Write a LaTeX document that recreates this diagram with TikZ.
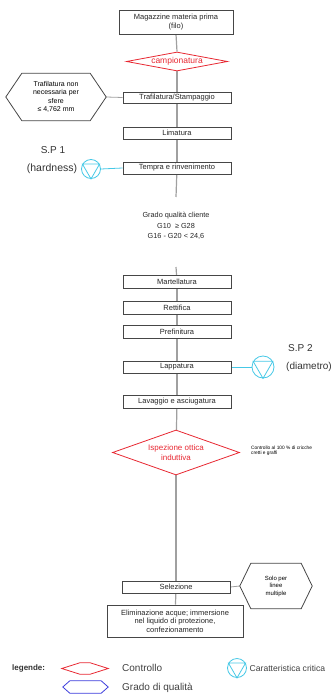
\documentclass[tikz,border=0pt]{standalone}
\usepackage{fontspec}
\setmainfont{Liberation Sans}
\usetikzlibrary{shapes.geometric,backgrounds}
\definecolor{redc}{RGB}{232,40,50}
\definecolor{cyanc}{RGB}{70,200,230}
\definecolor{bluec}{RGB}{60,60,220}
\definecolor{linec}{RGB}{160,160,160}
\definecolor{boxc}{RGB}{70,70,70}
\newcommand{\hexpath}[3]{\draw[#3] (#1.west) -- ([xshift=#2]#1.north west) -- ([xshift=-#2]#1.north east) -- (#1.east) -- ([xshift=-#2]#1.south east) -- ([xshift=#2]#1.south west) -- cycle;}
\newcommand{\critsym}[1]{\draw[cyanc,line width=0.8pt] (#1.150) -- (#1.30) -- (#1.270) -- cycle;}
\tikzset{
  procbox/.style={draw=boxc,fill=white,line width=0.8pt,inner sep=0pt,minimum width=108pt,minimum height=12pt,align=center,font=\fontsize{7.5}{8.5}\selectfont,text=black!85},
  ctrl/.style={diamond,draw=redc,fill=white,line width=0.8pt,inner sep=0pt},
  ctrltext/.style={text=redc,align=center,inner sep=0pt},
  hexnode/.style={inner sep=0pt,align=center,font=\fontsize{6}{7.5}\selectfont},
  critc/.style={circle,draw=cyanc,line width=0.8pt,inner sep=0pt,minimum size=#1},
  flow/.style={draw=linec,line width=1.2pt},
  cflow/.style={draw=cyanc,line width=0.8pt},
  lbl/.style={inner sep=0pt,font=\fontsize{10}{12}\selectfont,text=black!80},
  legtxt/.style={inner sep=0pt,anchor=west,font=\fontsize{10}{12}\selectfont,text=black!75}
}
\begin{document}
\begin{tikzpicture}[x=1pt,y=-1pt]
\useasboundingbox (0,0) rectangle (336,700);
% main column
\node[procbox,minimum width=114pt,minimum height=24pt] (box1) at (176,22) {Magazzine materia prima\\(filo)};
\node[ctrl,minimum width=101pt,minimum height=19pt,label={[ctrltext,font=\fontsize{8.5}{9}\selectfont]center:campionatura}] (camp) at (177,61.5) {};
\node[procbox,minimum height=11pt] (traf) at (177,97.5) {Trafilatura/Stampaggio};
\node[hexnode,font=\fontsize{7}{8.5}\selectfont,minimum width=100pt,minimum height=47pt] (hexL) at (56,97) {Trafilatura non\\necessaria per\\sfere\\≤ 4,762 mm};
\hexpath{hexL}{16pt}{boxc,line width=0.8pt}
\node[procbox] (lim) at (177,133) {Limatura};
\node[procbox] (tempra) at (177,168) {Tempra e rinvenimento};
\node[lbl] (sp1a) at (53,150) {S.P 1};
\node[lbl,font=\fontsize{10.5}{12}\selectfont] (sp1b) at (52,169) {(hardness)};
\node[critc=19pt] (circ1) at (91,169) {};
\critsym{circ1}
\coordinate (end1) at (176,197);
\node[inner sep=0pt,align=center,font=\fontsize{7.3}{10.5}\selectfont,text=black!85] (grado) at (176,226) {Grado qualità cliente\\G10 \ ≥ G28\\G16 - G20 < 24,6};
\coordinate (start2) at (176,267);
\node[procbox,minimum height=13pt] (mart) at (177,282) {Martellatura};
\node[procbox,minimum height=13pt] (rett) at (177,307.5) {Rettifica};
\node[procbox,minimum height=13pt] (pref) at (177,332) {Prefinitura};
\node[procbox] (lapp) at (177,367) {Lappatura};
\node[critc=22pt] (circ2) at (263,367) {};
\critsym{circ2}
\node[lbl,anchor=west] (sp2a) at (288,348) {S.P 2};
\node[lbl,anchor=west] (sp2b) at (286,367) {(diametro)};
\node[procbox,minimum height=13pt] (lav) at (177,401.5) {Lavaggio e asciugatura};
\node[ctrl,minimum width=127pt,minimum height=45pt,label={[ctrltext,font=\fontsize{8}{10}\selectfont]center:Ispezione ottica\\induttiva}] (isp) at (176,452.5) {};
\node[inner sep=0pt,anchor=west,align=left,font=\fontsize{4.8}{5}\selectfont] (note) at (251,451) {Controllo al 100 \% di cricche\\cretti e graffi};
\node[procbox] (sel) at (176,587) {Selezione};
\node[hexnode,minimum width=72pt,minimum height=45pt] (hexR) at (276,586) {Solo per\\linee\\multiple};
\hexpath{hexR}{11pt}{boxc,line width=0.8pt}
\node[procbox,minimum width=136pt,minimum height=32pt] (elim) at (175,621) {Eliminazione acque; immersione\\nel liquido di protezione,\\confezionamento};
% legend
\node[inner sep=0pt,anchor=west,font=\fontsize{8}{9}\selectfont\bfseries,text=black!80] (leg) at (12,668) {legende:};
\node[inner sep=0pt,minimum width=46pt,minimum height=11pt] (legR) at (85,668.5) {};
\hexpath{legR}{18pt}{redc,line width=0.8pt}
\node[legtxt] (legRt) at (122,668) {Controllo};
\node[inner sep=0pt,minimum width=45pt,minimum height=12pt] (legB) at (85.5,687) {};
\hexpath{legB}{7pt}{bluec,line width=0.8pt}
\node[legtxt] (legBt) at (122,688) {Grado di qualità};
\node[critc=19pt] (legC) at (237,668) {};
\critsym{legC}
\node[legtxt,font=\fontsize{8.6}{10}\selectfont] (legCt) at (249.5,668) {Caratteristica critica};
% connectors
\begin{scope}[on background layer]
\draw[flow] (box1.south) -- (camp.north);
\draw[flow] (camp.south) -- (traf.north);
\draw[flow] (traf) -- (lim);
\draw[flow] (lim) -- (tempra);
\draw[flow] (tempra) -- (end1);
\draw[flow] (start2) -- (mart);
\draw[flow] (mart) -- (rett);
\draw[flow] (rett) -- (pref);
\draw[flow] (pref) -- (lapp);
\draw[flow] (lapp) -- (lav);
\draw[flow] (lav) -- (isp);
\draw[flow] (isp) -- (sel);
\draw[flow] (sel) -- (elim);
\draw[flow,line width=0.8pt] (hexL.east) -- (traf.west);
\draw[flow,line width=0.8pt] (sel.east) -- (hexR.west);
\draw[cflow] (circ1.east) -- (tempra.west);
\draw[cflow] (lapp.east) -- (circ2.west);
\end{scope}
\end{tikzpicture}
\end{document}
